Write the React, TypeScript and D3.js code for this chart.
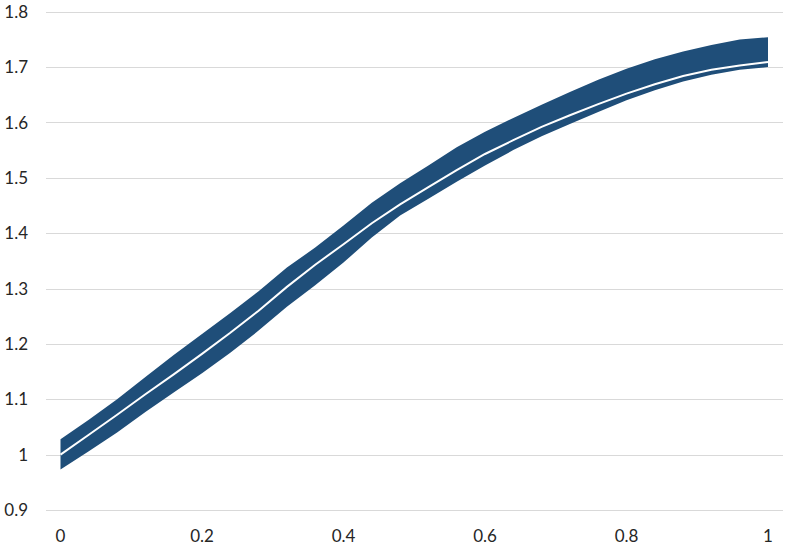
import React from "react";
import * as d3 from "d3";

const xs = [0, 0.04, 0.08, 0.12, 0.16, 0.2, 0.24, 0.28, 0.32, 0.36, 0.4, 0.44, 0.48, 0.52, 0.56, 0.6, 0.64, 0.68, 0.72, 0.76, 0.8, 0.84, 0.88, 0.92, 0.96, 1.0];
const upper = [1.028, 1.063, 1.100, 1.140, 1.180, 1.218, 1.256, 1.295, 1.338, 1.374, 1.414, 1.455, 1.490, 1.522, 1.555, 1.583, 1.608, 1.632, 1.655, 1.677, 1.697, 1.714, 1.728, 1.740, 1.750, 1.754];
const mean = [1.000, 1.036, 1.072, 1.109, 1.145, 1.182, 1.220, 1.260, 1.303, 1.343, 1.380, 1.418, 1.452, 1.483, 1.514, 1.543, 1.568, 1.592, 1.613, 1.633, 1.652, 1.669, 1.684, 1.695, 1.703, 1.709];
const lower = [0.973, 1.006, 1.040, 1.077, 1.112, 1.147, 1.184, 1.224, 1.267, 1.306, 1.347, 1.392, 1.432, 1.462, 1.493, 1.522, 1.550, 1.575, 1.597, 1.619, 1.640, 1.658, 1.674, 1.686, 1.695, 1.700];
const yTicks = [0.9, 1.0, 1.1, 1.2, 1.3, 1.4, 1.5, 1.6, 1.7, 1.8];
const xTicks = [0, 0.2, 0.4, 0.6, 0.8, 1];

export default function App() {
  const W = 790, H = 550;
  const x = d3.scaleLinear().domain([0, 1]).range([60.5, 768]);
  const y = d3.scaleLinear().domain([0.9, 1.8]).range([510, 11.7]);
  const pts = xs.map((t, i) => ({ t, u: upper[i], m: mean[i], l: lower[i] }));
  const area = d3.area<any>().x(d => x(d.t)).y0(d => y(d.l)).y1(d => y(d.u));
  const line = d3.line<any>().x(d => x(d.t)).y(d => y(d.m));
  const font = "Lato, 'Liberation Sans', sans-serif";
  return (
    <svg width={W} height={H} style={{ position: "absolute", left: 0, top: 0, background: "#fff" }}>
      {yTicks.map(v => (
        <g key={v}>
          <line x1={46} x2={783} y1={Math.round(y(v)) + 0.5} y2={Math.round(y(v)) + 0.5} stroke="#d9d9d9" strokeWidth={1} />
          <text x={28} y={y(v)} dy="0.36em" textAnchor="end" fontFamily={font} fontSize={17} fill="#262626">{d3.format("")(v)}</text>
        </g>
      ))}
      {xTicks.map(v => (
        <text key={v} x={x(v)} y={542} textAnchor="middle" fontFamily={font} fontSize={17} fill="#262626">{String(v)}</text>
      ))}
      <path d={area(pts) || ""} fill="#1f4e79" />
      <path d={line(pts) || ""} fill="none" stroke="#ffffff" strokeWidth={2} />
    </svg>
  );
}
